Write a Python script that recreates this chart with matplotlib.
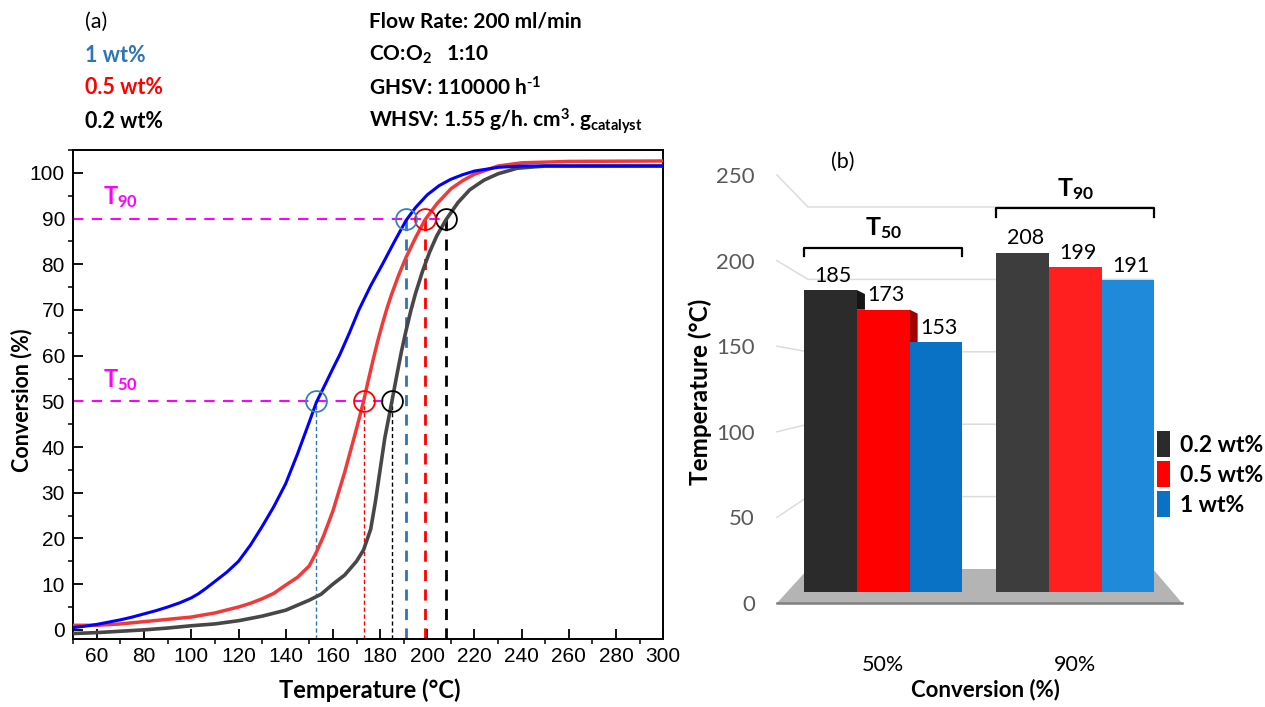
import numpy as np
import matplotlib
matplotlib.use("Agg")
import matplotlib.pyplot as plt
from matplotlib.patches import Polygon
from matplotlib.ticker import MultipleLocator

# sub/superscripts follow the weight and family of the surrounding text
plt.rcParams["mathtext.default"] = "regular"

# ---- light-off curves (temperature in degC, conversion in %) ----
temp_1wt = [50, 55, 60, 65, 70, 75, 80, 85, 90, 95, 100, 103, 106, 110, 115, 120, 125,
            130, 135, 140, 145, 150, 153, 157, 160, 163, 167, 171, 176, 181, 186, 191,
            195, 200, 205, 210, 215, 220, 230, 240, 260, 300]
conv_1wt = [0.5, 0.8, 1.2, 1.7, 2.2, 2.8, 3.5, 4.2, 5.0, 5.9, 7.0, 7.9, 9.0, 10.6, 12.6,
            15.0, 18.5, 22.6, 27.0, 32.0, 38.5, 45.5, 49.8, 54.0, 57.2, 60.3, 65.0, 70.0,
            75.3, 80.0, 84.9, 89.6, 92.4, 95.2, 97.2, 98.6, 99.6, 100.4, 101.2, 101.5,
            101.5, 101.5]

temp_05wt = [50, 60, 70, 80, 90, 100, 110, 120, 125, 130, 135, 140, 145, 150, 153, 156,
             160, 165, 170, 173, 175, 177, 179, 181, 183, 185, 188, 191, 195, 199, 204,
             210, 215, 220, 230, 240, 260, 300]
conv_05wt = [1.0, 1.0, 1.3, 1.8, 2.3, 2.8, 3.7, 5.0, 5.8, 6.8, 8.0, 9.8, 11.5, 14.0, 17.0,
             20.5, 26.0, 34.5, 44.0, 50.0, 54.6, 59.0, 63.2, 67.0, 70.5, 73.6, 77.8, 81.5,
             85.8, 89.7, 93.2, 96.5, 98.3, 99.7, 101.5, 102.2, 102.5, 102.6]

temp_02wt = [50, 60, 70, 80, 90, 100, 110, 120, 130, 140, 150, 155, 160, 165, 170, 173,
             176, 178, 180, 182, 185, 187, 189, 191, 193, 195, 198, 201, 204, 208, 213,
             218, 224, 230, 238, 250, 300]
conv_02wt = [-0.8, -0.6, -0.3, 0.0, 0.4, 0.9, 1.3, 2.0, 3.0, 4.3, 6.5, 7.8, 10.0, 12.0,
             15.0, 17.5, 22.0, 28.0, 35.0, 42.0, 50.0, 55.5, 60.8, 65.5, 69.8, 73.6, 78.5,
             82.7, 86.2, 89.8, 93.5, 96.3, 98.4, 99.8, 101.0, 101.5, 101.5]

# ---- T50 / T90 per loading (degC) ----
loadings = ["0.2 wt%", "0.5 wt%", "1 wt%"]
t50 = [185, 173, 153]
t90 = [208, 199, 191]
conv_levels = ["50%", "90%"]

# colours
BLUE_LINE = "#0000ff"
RED_LINE = "#f03a3a"
GREY_LINE = "#474747"
MARK_COLORS = ["#000000", "#ff0000", "#3a7fc0"]
DASH_COLORS = ["#000000", "#ff0000", "#2e75b6"]
MAGENTA = "#ff00ff"

W, H = 1265, 707
fig = plt.figure(figsize=(W / 100, H / 100), dpi=100)


def fx(px):
    return px / W


def fy(py):
    return 1 - py / H


SANS = "Liberation Sans"
CAL = "Lato"

# ================= panel (a) =================
ax = fig.add_axes([fx(73.3), fy(639), (663.3 - 73.3) / W, (639 - 150) / H])
ax.plot(temp_02wt, conv_02wt, color=GREY_LINE, lw=2.6, zorder=3)
ax.plot(temp_05wt, conv_05wt, color=RED_LINE, lw=2.5, zorder=4)
ax.plot(temp_1wt, conv_1wt, color=BLUE_LINE, lw=2.2, zorder=5)

ax.set_xlim(50, 300)
ax.set_ylim(-2, 105)

# guide lines at 50 % and 90 %
ax.hlines(50, 50, max(t50), colors=MAGENTA, lw=1.5, linestyles=(0, (5, 4)), zorder=2)
ax.hlines(90, 50, max(t90), colors=MAGENTA, lw=1.5, linestyles=(0, (5, 4)), zorder=2)
for t, c, mc in zip(t50, DASH_COLORS, MARK_COLORS):
    ax.vlines(t, -2, 50, colors=c, lw=1.0, linestyles=(0, (3, 2)), zorder=2)
    ax.plot(t, 50, "o", mfc="none", mec=mc, ms=15, mew=1.3, zorder=6)
for t, c, mc in zip(t90, DASH_COLORS, MARK_COLORS):
    ax.vlines(t, -2, 90, colors=c, lw=2.0, linestyles=(0, (4, 3)), zorder=2)
    ax.plot(t, 90, "o", mfc="none", mec=mc, ms=15, mew=1.3, zorder=6)

for lvl, ty in [("90", 94.7), ("50", 54.6)]:
    ax.text(62.5, ty, r"T$_{%s}$" % lvl, color=MAGENTA, fontsize=17, fontweight="bold",
            family=CAL, ha="left", va="center")

ax.xaxis.set_minor_locator(MultipleLocator(10))
ax.yaxis.set_minor_locator(MultipleLocator(5))
ax.set_xticks(np.arange(60, 301, 20))
ax.set_yticks(np.arange(0, 101, 10))
ax.tick_params(which="major", direction="in", length=7, width=1.3, labelsize=15, pad=6)
ax.tick_params(which="minor", direction="out", length=3.5, width=1.1)
for lab in ax.get_xticklabels() + ax.get_yticklabels():
    lab.set_fontfamily(SANS)
for sp in ax.spines.values():
    sp.set_linewidth(1.4)

fig.text(fx(370), fy(690), "Temperature (°C)", fontsize=17, fontweight="bold",
         family=CAL, ha="center", va="center")
fig.text(fx(22), fy(400), "Conversion (%)", fontsize=15.5, fontweight="bold",
         family=CAL, ha="center", va="center", rotation=90)

# header text
left_lines = [("(a)", "black", "normal"), ("1 wt%", "#2e75b6", "bold"),
              ("0.5 wt%", "#ff0000", "bold"), ("0.2 wt%", "black", "bold")]
for i, (s, c, w) in enumerate(left_lines):
    fig.text(fx(85), fy(22 + 33 * i), s, color=c, fontweight=w, fontsize=15.5,
             family=CAL, ha="left", va="center")
right_lines = ["Flow Rate: 200 ml/min",
               r"CO:O$_2$   1:10",
               r"GHSV: 110000 h$^{\text{-}1}$",
               r"WHSV: 1.55 g/h. cm$^3$. g$_{catalyst}$"]
for i, s in enumerate(right_lines):
    fig.text(fx(369), fy(22 + 33 * i), s, fontweight="bold", fontsize=15,
             family=CAL, ha="left", va="center")

# ================= panel (b) =================
# perspective frame: front edge scale, back wall scale and bar scale (px per degC)
FRONT0, FRONT_K = 603, 1.712
BACK0, BACK_K = 569, 1.448
BAR0, BAR_K = 592, 1.632
X_FRONT, X_BACK_L, X_BACK_R, X_FRONT_R = 777, 808, 1153, 1182

ov = fig.add_axes([0, 0, 1, 1], zorder=0)
ov.set_xlim(0, W)
ov.set_ylim(H, 0)
ov.axis("off")

floor = Polygon([(X_FRONT, FRONT0), (X_FRONT_R, FRONT0), (X_BACK_R, BACK0), (X_BACK_L, BACK0)],
                closed=True, facecolor="#b4b4b4", edgecolor="none")
ov.add_patch(floor)
ov.plot([X_FRONT, X_FRONT_R], [FRONT0, FRONT0], color="#7f7f7f", lw=1.8)

ticks_b = [50, 100, 150, 200, 250]
for v in ticks_b:
    yf = FRONT0 - FRONT_K * v
    yb = BACK0 - BACK_K * v
    ov.plot([X_FRONT, X_BACK_L, X_BACK_R], [yf, yb, yb], color="#dcdcdc", lw=1.1)

# front value axis
axf = fig.add_axes([fx(X_FRONT), fy(FRONT0), 0.001, (FRONT0 - 150) / H], zorder=1)
axf.set_ylim(0, (FRONT0 - 150) / FRONT_K)
axf.set_yticks([0] + ticks_b)
axf.tick_params(axis="y", length=0, pad=16, labelsize=16, labelcolor="#595959")
axf.set_xticks([])
for lab in axf.get_yticklabels():
    lab.set_fontfamily(CAL)
for sp in axf.spines.values():
    sp.set_visible(False)
axf.patch.set_visible(False)

# bars
axb = fig.add_axes([fx(760), fy(BAR0), (1190 - 760) / W, (BAR0 - 150) / H], zorder=2)
axb.patch.set_visible(False)
axb.axis("off")
axb.set_ylim(0, (BAR0 - 150) / BAR_K)
axb.set_xlim((760 - 883.3) / 192, (1190 - 883.3) / 192)

bw = 52.7 / 192
groups = np.arange(len(conv_levels))
series_vals = [[t50[i], t90[i]] for i in range(3)]
series_cols = [["#2b2b2b", "#3d3d3d"], ["#ff0000", "#ff1f1f"], ["#0a72c4", "#1f8ada"]]
for i, (lab, vals, cols) in enumerate(zip(loadings, series_vals, series_cols)):
    xs = groups + (i - 1) * bw
    axb.bar(xs, vals, width=bw, color=cols, label=lab, zorder=3)
    for x, v in zip(xs, vals):
        axb.annotate(str(v), (x, v), xytext=(2, 3), textcoords="offset points",
                     ha="center", va="bottom", fontsize=15.5, family=CAL, zorder=5)

# side faces visible in the first group
side_cols = ["#151515", "#a00000"]
for i in range(2):
    xr = groups[0] + (i - 1) * bw + bw / 2
    v_top = series_vals[i][0]
    v_next = series_vals[i + 1][0]
    d = 8 / 192
    axb.add_patch(Polygon([(xr, v_top), (xr + d, v_top - 4 / BAR_K), (xr + d, v_next),
                           (xr, v_next)], closed=True, facecolor=side_cols[i],
                          edgecolor="none", zorder=2))

# brackets for T50 / T90
for g, (lvl, lab) in enumerate(zip([max(t50), max(t90)], ["50", "90"])):
    yb = lvl + 26 if g == 0 else lvl + 27
    x0 = g - 1.5 * bw
    x1 = g + 1.5 * bw
    axb.plot([x0, x0, x1, x1], [yb - 5, yb, yb, yb - 5], color="black", lw=1.6, zorder=5)
    axb.text(g, yb + 4, r"T$_{%s}$" % lab, ha="center", va="bottom", fontsize=18,
             fontweight="bold", family=CAL, zorder=5)

for g, s in zip(groups, conv_levels):
    axb.text(g, (BAR0 - 665) / BAR_K, s, ha="center", va="center", fontsize=15.5,
             family=CAL)

fig.text(fx(843), fy(162), "(b)", fontsize=15.5, family=CAL, ha="center", va="center")
fig.text(fx(985), fy(690), "Conversion (%)", fontsize=16, fontweight="bold",
         family=CAL, ha="center", va="center")
fig.text(fx(700), fy(392), "Temperature (°C)", fontsize=17.5, fontweight="bold",
         family=CAL, ha="center", va="center", rotation=90)

leg = axb.legend(loc="center left", frameon=False,
                 handlelength=0.55, handleheight=1.4, handletextpad=0.45,
                 labelspacing=0.15, borderaxespad=0, borderpad=0,
                 prop={"family": CAL, "weight": "bold", "size": 16.5})
leg.set_bbox_to_anchor(((1157 - 760) / 430, (BAR0 - 474) / (BAR0 - 150)), transform=axb.transAxes)

fig.savefig("out.png", dpi=100)
